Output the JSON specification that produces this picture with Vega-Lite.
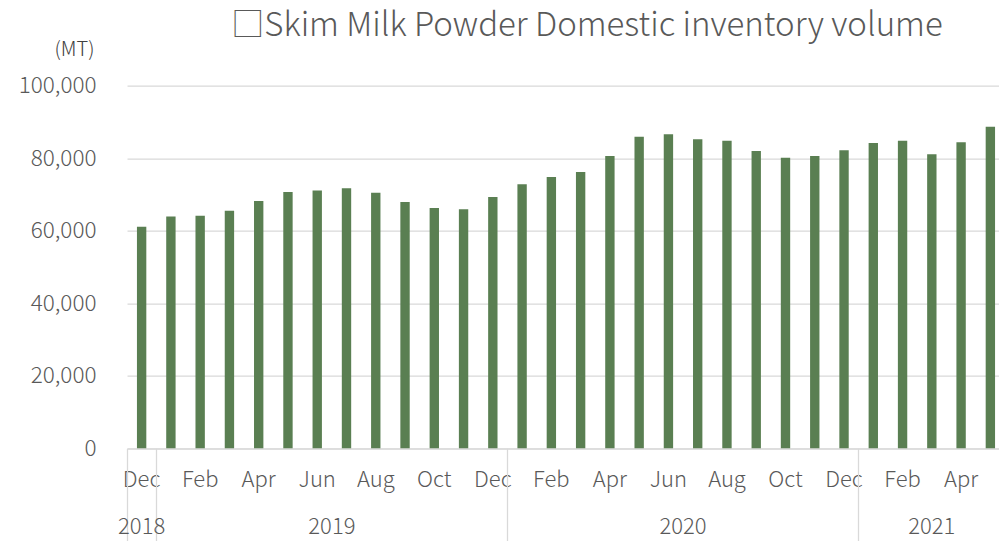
{
  "$schema": "https://vega.github.io/schema/vega-lite/v6.json",
  "width": 872,
  "height": 362.6,
  "autosize": "none",
  "padding": {"left": 127, "top": 85.7, "right": 0, "bottom": 92.7},
  "background": "white",
  "config": {"font": "Noto Sans CJK JP", "view": {"stroke": null}},
  "title": {
    "text": "□Skim Milk Powder Domestic inventory volume",
    "fontSize": 33,
    "fontWeight": 300,
    "color": "#595959",
    "anchor": "middle",
    "baseline": "alphabetic",
    "dx": 24,
    "offset": -29
  },
  "data": {
    "values": [
      {"month": "2018-12", "volume": 61100},
      {"month": "2019-01", "volume": 63900},
      {"month": "2019-02", "volume": 64100},
      {"month": "2019-03", "volume": 65500},
      {"month": "2019-04", "volume": 68200},
      {"month": "2019-05", "volume": 70700},
      {"month": "2019-06", "volume": 71100},
      {"month": "2019-07", "volume": 71700},
      {"month": "2019-08", "volume": 70500},
      {"month": "2019-09", "volume": 67900},
      {"month": "2019-10", "volume": 66300},
      {"month": "2019-11", "volume": 65900},
      {"month": "2019-12", "volume": 69300},
      {"month": "2020-01", "volume": 72800},
      {"month": "2020-02", "volume": 74800},
      {"month": "2020-03", "volume": 76200},
      {"month": "2020-04", "volume": 80600},
      {"month": "2020-05", "volume": 85900},
      {"month": "2020-06", "volume": 86600},
      {"month": "2020-07", "volume": 85200},
      {"month": "2020-08", "volume": 84800},
      {"month": "2020-09", "volume": 82000},
      {"month": "2020-10", "volume": 80100},
      {"month": "2020-11", "volume": 80600},
      {"month": "2020-12", "volume": 82200},
      {"month": "2021-01", "volume": 84200},
      {"month": "2021-02", "volume": 84800},
      {"month": "2021-03", "volume": 81100},
      {"month": "2021-04", "volume": 84400},
      {"month": "2021-05", "volume": 88700}
    ]
  },
  "layer": [
    {
      "mark": {"type": "bar", "color": "#5a7f52", "width": {"band": 0.32}},
      "encoding": {
        "x": {
          "field": "month",
          "type": "ordinal",
          "scale": {"range": [0, 878], "paddingInner": 0, "paddingOuter": 0},
          "axis": {
            "title": null,
            "labelAngle": 0,
            "ticks": false,
            "tickSize": 0,
            "grid": false,
            "domainColor": "#d9d9d9",
            "domainWidth": 1.3,
            "labelExpr": "toNumber(slice(datum.value, 5)) % 2 == 0 ? ['Jan','Feb','Mar','Apr','May','Jun','Jul','Aug','Sep','Oct','Nov','Dec'][toNumber(slice(datum.value, 5)) - 1] : ''",
            "labelFontSize": 22,
            "labelFontWeight": 300,
            "labelColor": "#595959",
            "labelPadding": 21,
            "labelOverlap": false,
            "labelBound": false
          }
        },
        "y": {
          "field": "volume",
          "type": "quantitative",
          "scale": {"domain": [0, 100000]},
          "axis": {
            "title": "(MT)",
            "titleAngle": 0,
            "titleAlign": "right",
            "titleBaseline": "middle",
            "titleX": -33,
            "titleY": -36,
            "titleFontSize": 20,
            "titleFontWeight": 300,
            "titleColor": "#404040",
            "values": [0, 20000, 40000, 60000, 80000, 100000],
            "format": ",.0f",
            "domain": false,
            "ticks": false,
            "tickSize": 0,
            "labelPadding": 31,
            "labelFontSize": 22.5,
            "labelFontWeight": 300,
            "labelColor": "#595959",
            "gridColor": "#d9d9d9",
            "gridWidth": 1.3
          }
        }
      }
    },
    {
      "mark": {"type": "rule", "strokeOpacity": 0},
      "encoding": {
        "x": {
          "field": "month",
          "type": "ordinal",
          "scale": {"range": [0, 878], "paddingInner": 0, "paddingOuter": 0},
          "axis": {
            "title": null,
            "orient": "bottom",
            "bandPosition": 0,
            "domain": false,
            "grid": false,
            "ticks": true,
            "tickSize": 93,
            "tickWidth": 1.3,
            "tickColor": {
              "condition": {
                "test": "indexof(['2018-12', '2019-01', '2020-01', '2021-01'], datum.value) >= 0",
                "value": "#d9d9d9"
              },
              "value": "transparent"
            },
            "labelAngle": 0,
            "labelExpr": "datum.value == '2018-12' ? '2018' : datum.value == '2019-07' ? '2019' : datum.value == '2020-07' ? '2020' : datum.value == '2021-03' ? '2021' : ''",
            "labelOffset": {
              "condition": {"test": "datum.value == '2019-07' || datum.value == '2020-07'", "value": -14.6},
              "value": 0
            },
            "labelPadding": -25,
            "labelFontSize": 22,
            "labelFontWeight": 300,
            "labelColor": "#595959",
            "labelOverlap": false,
            "labelBound": false
          }
        }
      }
    }
  ],
  "resolve": {"axis": {"x": "independent"}}
}
